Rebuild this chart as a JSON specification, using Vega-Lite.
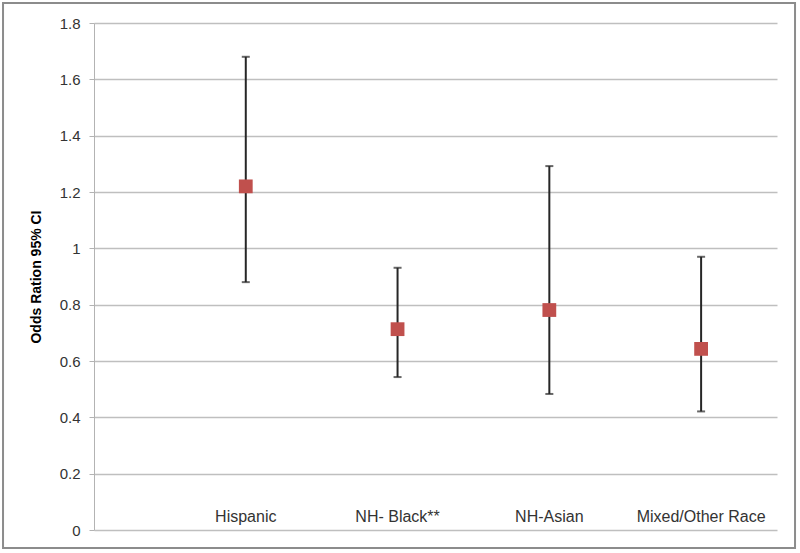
{
  "$schema": "https://vega.github.io/schema/vega-lite/v6.json",
  "autosize": "none",
  "padding": {"left": 94, "top": 23, "right": 23, "bottom": 23},
  "width": 683,
  "height": 507,
  "background": "white",
  "config": {
    "view": {"stroke": null},
    "font": "Liberation Sans"
  },
  "data": {
    "values": [
      {"group": "Hispanic", "or": 1.22, "lower": 0.88, "upper": 1.68},
      {"group": "NH- Black**", "or": 0.713, "lower": 0.543, "upper": 0.931},
      {"group": "NH-Asian", "or": 0.781, "lower": 0.483, "upper": 1.292},
      {"group": "Mixed/Other Race", "or": 0.643, "lower": 0.421, "upper": 0.97}
    ]
  },
  "layer": [
    {
      "data": {"values": [{"frame": "outer"}]},
      "mark": {"type": "rect", "fill": null, "stroke": "#8c8c8c", "strokeWidth": 2, "clip": false},
      "encoding": {
        "x": {"datum": -0.1332, "type": "quantitative", "scale": {"domain": [0, 1], "nice": false, "zero": false}, "axis": null},
        "x2": {"datum": 1.0264},
        "y": {"datum": 1.871, "type": "quantitative"},
        "y2": {"datum": -0.0639}
      }
    },
    {
      "layer": [
        {
          "mark": {"type": "rule", "color": "#262626", "strokeWidth": 2},
          "encoding": {
            "x": {"field": "group", "type": "nominal", "sort": null,
              "scale": {"type": "band", "paddingInner": 0, "paddingOuter": 0.25, "align": 1},
              "axis": null},
            "y": {"field": "lower", "type": "quantitative",
              "scale": {"domain": [0, 1.8], "nice": false, "zero": true},
              "axis": {
                "title": "Odds Ration 95% CI",
                "titleFont": "Liberation Sans",
                "titleFontSize": 14,
                "titleFontWeight": "bold",
                "titleColor": "#000000",
                "titlePadding": 16,
                "values": [0, 0.2, 0.4, 0.6, 0.8, 1, 1.2, 1.4, 1.6, 1.8],
                "format": "~g",
                "labelFont": "Liberation Sans",
                "labelFontSize": 15,
                "labelColor": "#333333",
                "labelPadding": 9,
                "tickSize": 5,
                "tickColor": "#b3b3b3",
                "domainColor": "#b3b3b3",
                "gridColor": "#bfbfbf",
                "grid": true,
                "gridWidth": 1.5
              }},
            "y2": {"field": "upper"}
          }
        },
        {
          "mark": {"type": "tick", "orient": "horizontal", "size": 8, "thickness": 2, "color": "#262626"},
          "encoding": {
            "x": {"field": "group", "type": "nominal", "sort": null},
            "y": {"field": "upper", "type": "quantitative"}
          }
        },
        {
          "mark": {"type": "tick", "orient": "horizontal", "size": 8, "thickness": 2, "color": "#262626"},
          "encoding": {
            "x": {"field": "group", "type": "nominal", "sort": null},
            "y": {"field": "lower", "type": "quantitative"}
          }
        },
        {
          "mark": {"type": "point", "shape": "square", "filled": true, "size": 190, "color": "#c0504d", "opacity": 1},
          "encoding": {
            "x": {"field": "group", "type": "nominal", "sort": null},
            "y": {"field": "or", "type": "quantitative"}
          }
        },
        {
          "mark": {"type": "text", "baseline": "alphabetic", "align": "center", "dy": -8, "fontSize": 16, "font": "Liberation Sans", "color": "#333333"},
          "encoding": {
            "x": {"field": "group", "type": "nominal", "sort": null},
            "y": {"datum": 0, "type": "quantitative"},
            "text": {"field": "group"}
          }
        }
      ]
    }
  ],
  "resolve": {"scale": {"x": "independent"}}
}
